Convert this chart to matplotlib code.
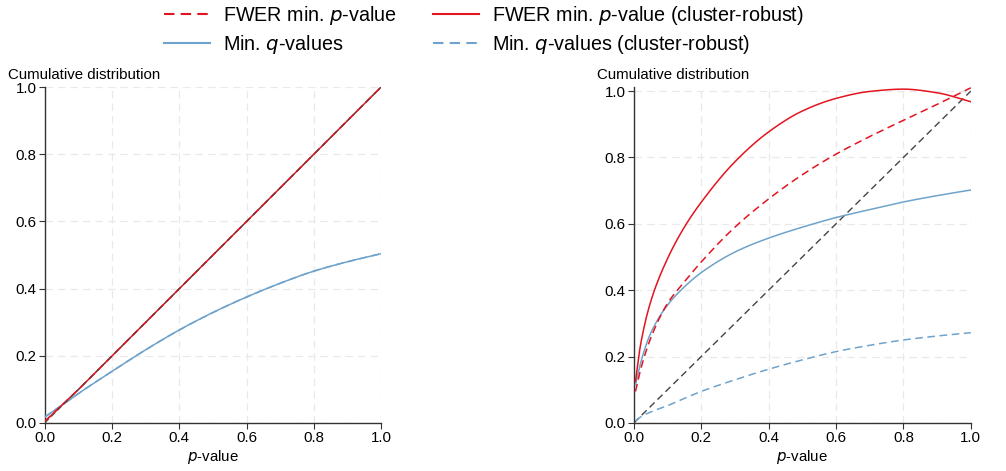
import matplotlib
matplotlib.use("Agg")
import matplotlib.pyplot as plt
import numpy as np
from matplotlib.lines import Line2D

plt.rcParams['font.family'] = ['Liberation Sans', 'DejaVu Sans']

RED = '#e3141f'
BLUE = '#6fa3cb'
GRAY = '#444444'

# Left panel data
p_left = [0.0, 0.1, 0.2, 0.3, 0.4, 0.5, 0.6, 0.7, 0.8, 0.9, 1.0]
fwer_left = [0.005, 0.1, 0.2, 0.3, 0.4, 0.5, 0.6, 0.7, 0.8, 0.9, 1.0]
fwer_cr_left = [0.005, 0.1, 0.2, 0.3, 0.4, 0.5, 0.6, 0.7, 0.8, 0.9, 1.0]
q_left = [0.018, 0.088, 0.154, 0.218, 0.277, 0.329, 0.375, 0.416, 0.452, 0.48, 0.504]
q_cr_left = [0.018, 0.088, 0.154, 0.218, 0.277, 0.329, 0.375, 0.416, 0.452, 0.48, 0.504]

# Right panel data
p_right = [0.005, 0.02, 0.05, 0.1, 0.15, 0.2, 0.3, 0.4, 0.5, 0.6, 0.7, 0.8, 0.9, 1.0]
fwer_right = [0.095, 0.16, 0.255, 0.36, 0.425, 0.485, 0.59, 0.675, 0.748, 0.81, 0.863, 0.912, 0.96, 1.01]
fwer_cr_right = [0.125, 0.235, 0.365, 0.495, 0.59, 0.665, 0.787, 0.877, 0.94, 0.978, 0.999, 1.006, 0.995, 0.968]
q_right = [0.115, 0.18, 0.27, 0.355, 0.41, 0.453, 0.515, 0.557, 0.59, 0.619, 0.643, 0.666, 0.685, 0.702]
q_cr_right = [0.006, 0.018, 0.033, 0.052, 0.074, 0.095, 0.13, 0.162, 0.19, 0.215, 0.234, 0.25, 0.262, 0.272]

diag = [0.0, 1.0]
ticks = [0.0, 0.2, 0.4, 0.6, 0.8, 1.0]
tick_labels = ['0.0', '0.2', '0.4', '0.6', '0.8', '1.0']

fig = plt.figure(figsize=(10.06, 4.71), dpi=100)
ax1 = fig.add_axes([0.0447, 0.102, 0.334, 0.713])
ax2 = fig.add_axes([0.630, 0.102, 0.335, 0.713])

FS = 10.8


def style(ax, ytop):
    ax.set_xlim(0, 1)
    ax.set_ylim(0, ytop)
    ax.set_xticks(ticks)
    ax.set_xticklabels(tick_labels)
    ax.set_yticks(ticks)
    ax.set_yticklabels(tick_labels)
    ax.tick_params(labelsize=FS, length=4, color='#333333', pad=2)
    for s in ['top', 'right']:
        ax.spines[s].set_visible(False)
    for s in ['left', 'bottom']:
        ax.spines[s].set_color('#333333')
        ax.spines[s].set_linewidth(1.0)
    ax.grid(True, color='#e9e9e9', linestyle=(0, (6, 4)), linewidth=0.9)
    ax.set_axisbelow(True)
    ax.set_xlabel(r'$\it{p}$-value', fontsize=FS, labelpad=2)
    ax.text(-0.11, 1.015, 'Cumulative distribution', transform=ax.transAxes,
            fontsize=FS, ha='left', va='bottom')


style(ax1, 1.0)
style(ax2, 1.012)


def smooth(xs, ys, n=400):
    # monotone piecewise cubic Hermite through the read points
    xs = np.asarray(xs, float); ys = np.asarray(ys, float)
    px = np.linspace(xs[0], xs[-1], n)
    h = np.diff(xs); d = np.diff(ys) / h
    m = np.zeros_like(ys)
    for i in range(1, len(xs) - 1):
        if d[i - 1] * d[i] > 0:
            w1 = 2 * h[i] + h[i - 1]; w2 = h[i] + 2 * h[i - 1]
            m[i] = (w1 + w2) / (w1 / d[i - 1] + w2 / d[i])
    m[0] = d[0]; m[-1] = d[-1]
    idx = np.clip(np.searchsorted(xs, px) - 1, 0, len(xs) - 2)
    t = (px - xs[idx]) / h[idx]
    h00 = 2 * t**3 - 3 * t**2 + 1; h10 = t**3 - 2 * t**2 + t
    h01 = -2 * t**3 + 3 * t**2; h11 = t**3 - t**2
    py = h00 * ys[idx] + h10 * h[idx] * m[idx] + h01 * ys[idx + 1] + h11 * h[idx] * m[idx + 1]
    return px, py


dash = (0, (5, 3))
LW = 1.1

ax1.plot(*smooth(p_left, q_cr_left), color=BLUE, lw=LW, ls=dash, zorder=3)
ax1.plot(*smooth(p_left, q_left), color=BLUE, lw=LW, zorder=3)
ax1.plot(p_left, fwer_left, color=RED, lw=LW, ls=dash, zorder=3)
ax1.plot(p_left, fwer_cr_left, color=RED, lw=LW, zorder=4)
ax1.plot(diag, diag, color=GRAY, lw=0.8, ls=dash, zorder=5, alpha=0.8)

ax2.plot(diag, diag, color=GRAY, lw=1.0, ls=dash, zorder=2)
ax2.plot(*smooth(p_right, q_cr_right), color=BLUE, lw=LW, ls=dash, zorder=3)
ax2.plot(*smooth(p_right, q_right), color=BLUE, lw=LW, zorder=3)
ax2.plot(*smooth(p_right, fwer_right), color=RED, lw=LW, ls=dash, zorder=3)
ax2.plot(*smooth(p_right, fwer_cr_right), color=RED, lw=LW, zorder=4)

handles = [
    Line2D([], [], color=RED, lw=1.5, ls=dash),
    Line2D([], [], color=BLUE, lw=1.5),
    Line2D([], [], color=RED, lw=1.5),
    Line2D([], [], color=BLUE, lw=1.5, ls=dash),
]
labels = [r'FWER min. $\it{p}$-value', r'Min. $\it{q}$-values',
          r'FWER min. $\it{p}$-value (cluster-robust)', r'Min. $\it{q}$-values (cluster-robust)']
fig.legend(handles, labels, ncol=2, loc='upper center', bbox_to_anchor=(0.481, 1.03),
           frameon=False, fontsize=14.25, handlelength=2.3, columnspacing=1.87,
           handletextpad=0.65, labelspacing=0.32)

fig.savefig('out.png', dpi=100)
